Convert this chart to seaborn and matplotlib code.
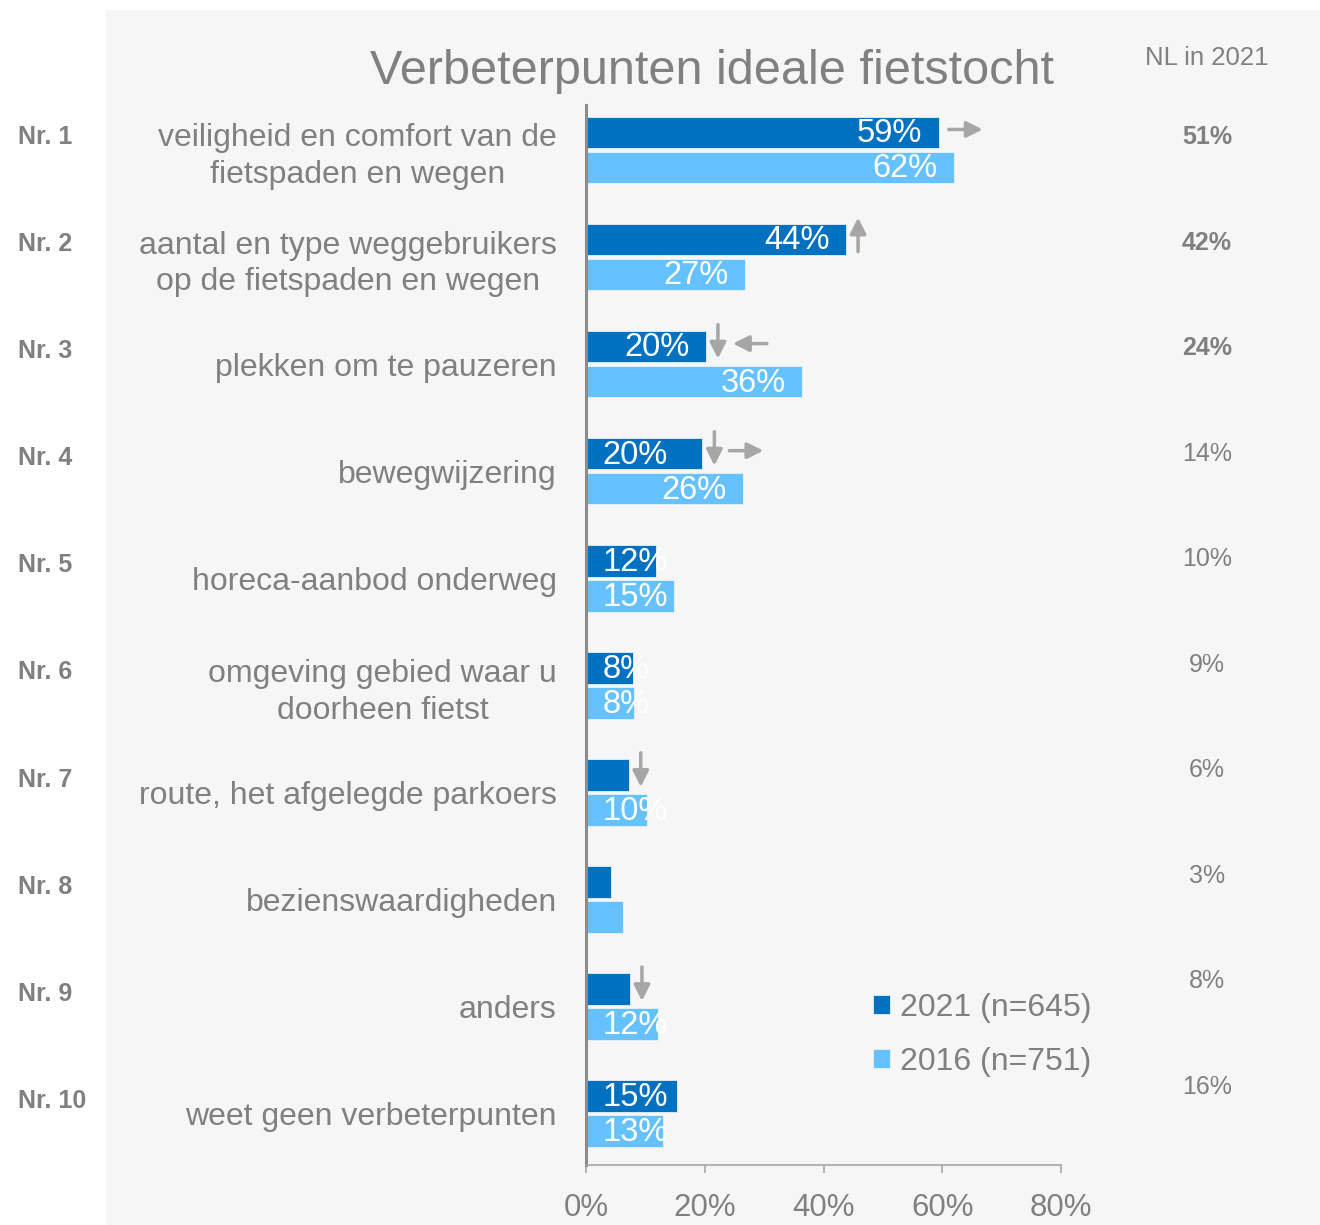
import seaborn as sns
import pandas as pd
import matplotlib.pyplot as plt
from matplotlib.patches import Rectangle
from matplotlib.transforms import offset_copy, blended_transform_factory

# data
categories = ["veiligheid en comfort van de\nfietspaden en wegen",
              "aantal en type weggebruikers\nop de fietspaden en wegen",
              "plekken om te pauzeren",
              "bewegwijzering",
              "horeca-aanbod onderweg",
              "omgeving gebied waar u\ndoorheen fietst",
              "route, het afgelegde parkoers",
              "bezienswaardigheden",
              "anders",
              "weet geen verbeterpunten"]
ranks = ["Nr. 1", "Nr. 2", "Nr. 3", "Nr. 4", "Nr. 5", "Nr. 6", "Nr. 7", "Nr. 8", "Nr. 9", "Nr. 10"]
v2021 = [59.4, 43.8, 20.2, 19.6, 11.8, 7.9, 7.2, 4.2, 7.4, 15.3]
v2016 = [62.0, 26.8, 36.4, 26.4, 14.9, 8.0, 10.2, 6.2, 12.1, 13.0]
lab2021 = ["59%", "44%", "20%", "20%", "12%", "8%", None, None, None, "15%"]
lab2016 = ["62%", "27%", "36%", "26%", "15%", "8%", "10%", None, "12%", "13%"]
nl2021 = ["51%", "42%", "24%", "14%", "10%", "9%", "6%", "3%", "8%", "16%"]
nl_bold = [True, True, True, False, False, False, False, False, False, False]
# significance arrows for 2021: vs 2016 (up/down), vs NL (right/left)
arrow_vs2016 = [None, "up", "down", "down", None, None, "down", None, "down", None]
arrow_vsnl = ["right", None, "left", "right", None, None, None, None, None, None]
years = ["2021 (n=645)", "2016 (n=751)"]

df = pd.DataFrame({
    "cat": categories * 2,
    "value": v2021 + v2016,
    "year": [years[0]] * len(categories) + [years[1]] * len(categories),
})

dark = "#0070c0"
light = "#66c1ff"
grey = "#808080"
arrow_c = "#a6a6a6"

plt.rcParams["font.family"] = ["Liberation Sans", "DejaVu Sans"]

fig = plt.figure(figsize=(13.2, 12.25), dpi=100)
fig.patches.append(Rectangle((106 / 1320, 0), 1 - 106 / 1320, 1 - 10 / 1225,
                             transform=fig.transFigure, facecolor="#f6f6f6",
                             edgecolor="none", zorder=-5))
ax = fig.add_axes([586 / 1320, 1 - 1165 / 1225, 475 / 1320, 1060 / 1225])
ax.set_facecolor("none")
ax.set_zorder(2)

sns.barplot(data=df, y="cat", x="value", hue="year", orient="h",
            palette=[dark, light], saturation=1, width=0.654, gap=0.1,
            edgecolor="#e8f2fa", linewidth=0.6, ax=ax)

ax.set_xlim(0, 80)
ax.set_ylim(9.48, -0.42)
ax.set_xticks([0, 20, 40, 60, 80])
ax.set_xticklabels(["0%", "20%", "40%", "60%", "80%"])
ax.set_xlabel("")
ax.set_ylabel("")
for s in ["top", "right"]:
    ax.spines[s].set_visible(False)
ax.spines["left"].set_color("#8c8c8c")
ax.spines["left"].set_linewidth(2.2)
ax.spines["bottom"].set_color("#a6a6a6")
ax.spines["bottom"].set_linewidth(1.2)
ax.tick_params(axis="x", colors="#a6a6a6", length=6, width=1.2, pad=14,
               labelsize=22.5, labelcolor=grey)
ax.tick_params(axis="y", length=0, pad=21, labelsize=23, labelcolor=grey)
for lbl in ax.get_yticklabels():
    lbl.set_multialignment("center")
    lbl.set_linespacing(1.3)

# bar labels
for cont, labs in zip(ax.containers, [lab2021, lab2016]):
    for bar, txt in zip(cont, labs):
        if txt is None:
            continue
        w = bar.get_width()
        yc = bar.get_y() + bar.get_height() / 2
        if w >= 20:
            ax.annotate(txt, xy=(w, yc), xytext=(-12, -1), textcoords="offset points",
                        ha="right", va="center", color="white", fontsize=23.5)
        else:
            ax.annotate(txt, xy=(0, yc), xytext=(12, -1), textcoords="offset points",
                        ha="left", va="center", color="white", fontsize=23.5)

# significance arrows
aprops = dict(arrowstyle="-|>", color=arrow_c, lw=2.5, mutation_scale=24,
              shrinkA=0, shrinkB=0)
for bar, av, ah in zip(ax.containers[0], arrow_vs2016, arrow_vsnl):
    w = bar.get_width()
    yc = bar.get_y() + bar.get_height() / 2
    if av is not None:
        top = offset_copy(ax.transData, fig=fig, x=12, y=22, units="dots")
        bot = offset_copy(ax.transData, fig=fig, x=12, y=-12, units="dots")
        if av == "down":
            ax.annotate("", xy=(w, yc), xycoords=bot, xytext=(w, yc), textcoords=top,
                        arrowprops=aprops, annotation_clip=False)
        else:
            ax.annotate("", xy=(w, yc), xycoords=top, xytext=(w, yc), textcoords=bot,
                        arrowprops=aprops, annotation_clip=False)
    if ah is not None:
        x0 = 27 if av is not None else 10
        left = offset_copy(ax.transData, fig=fig, x=x0, y=3, units="dots")
        right = offset_copy(ax.transData, fig=fig, x=x0 + 34, y=3, units="dots")
        if ah == "right":
            ax.annotate("", xy=(w, yc), xycoords=right, xytext=(w, yc), textcoords=left,
                        arrowprops=aprops, annotation_clip=False)
        else:
            ax.annotate("", xy=(w, yc), xycoords=left, xytext=(w, yc), textcoords=right,
                        arrowprops=aprops, annotation_clip=False)

# rank labels and NL column
tr = blended_transform_factory(fig.transFigure, ax.transData)
for i, (r, nl, b) in enumerate(zip(ranks, nl2021, nl_bold)):
    ax.text(18 / 1320, i - 0.12, r, transform=tr, ha="left", va="center",
            fontsize=18, fontweight="bold", color=grey)
    ax.text(1207 / 1320, i - 0.121 - 0.0144 * i, nl, transform=tr, ha="center",
            va="center", fontsize=18, fontweight="bold" if b else "normal", color=grey)

fig.text(1207 / 1320, 1 - 58 / 1225, "NL in 2021", ha="center", va="center",
         fontsize=18.5, color=grey)
fig.text(712 / 1320, 1 - 72 / 1225, "Verbeterpunten ideale fietstocht",
         ha="center", va="center", fontsize=35, color=grey)

# legend
handles, labels = ax.get_legend_handles_labels()
ax.legend(handles, labels, loc="center left", bbox_to_anchor=(0.661, 0.155),
          bbox_transform=fig.transFigure, frameon=False, fontsize=23,
          labelcolor=grey, handlelength=0.55, handleheight=0.55,
          handletextpad=0.3, labelspacing=0.75, borderpad=0, borderaxespad=0)

fig.savefig("out.png", dpi=100, facecolor="white")
